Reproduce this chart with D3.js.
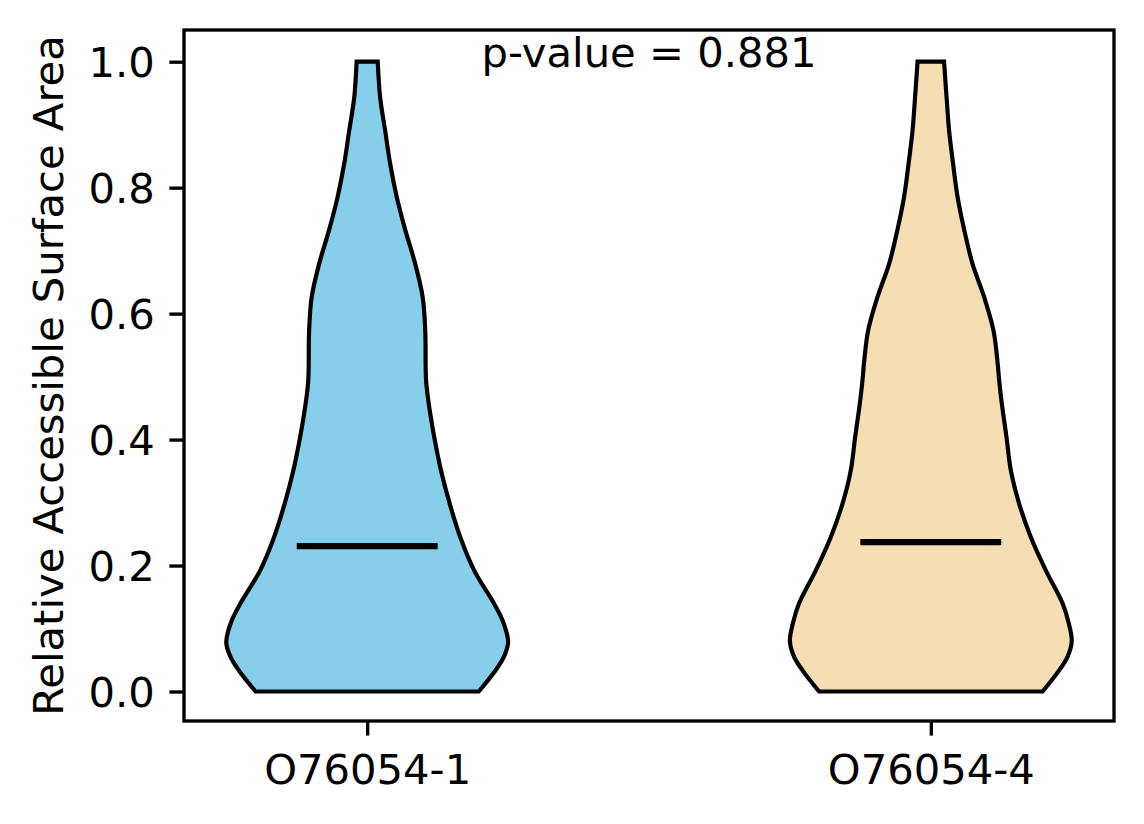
<!DOCTYPE html>
<html>
<head>
<meta charset="utf-8">
<script src="https://cdn.jsdelivr.net/npm/d3@7"></script>
<style>
  html, body { margin: 0; padding: 0; background: #fff; }
  svg { display: block; }
  text { font-family: "DejaVu Sans", sans-serif; fill: #000; }
</style>
</head>
<body>
<svg id="chart" width="1144" height="824"></svg>
<script>
// ---- data ----
const categories = ["O76054-1", "O76054-4"];
const positions = [1, 2];
const medians = [0.231, 0.237];
const colors = ["#87CEEB", "#F5DEB3"];
const pValueText = "p-value = 0.881";
const yLabel = "Relative Accessible Surface Area";
const yTicks = [0, 0.2, 0.4, 0.6, 0.8, 1.0];
const yTickLabels = ["0.0", "0.2", "0.4", "0.6", "0.8", "1.0"];

// KDE profiles: value levels and normalised density (max = 1)
const levels1 = [0.000, 0.033, 0.055, 0.078, 0.110, 0.140, 0.192, 0.245, 0.298, 0.351, 0.404, 0.457, 0.494, 0.573, 0.626, 0.679, 0.733, 0.785, 0.838, 0.890, 0.943, 1.000];
const density1 = [0.792, 0.909, 0.970, 1.000, 0.966, 0.899, 0.760, 0.661, 0.586, 0.524, 0.476, 0.437, 0.418, 0.412, 0.394, 0.341, 0.270, 0.210, 0.163, 0.128, 0.092, 0.075];
const levels2 = [0.000, 0.034, 0.055, 0.080, 0.110, 0.140, 0.192, 0.245, 0.298, 0.351, 0.404, 0.457, 0.494, 0.522, 0.573, 0.626, 0.679, 0.733, 0.785, 0.838, 0.890, 0.943, 1.000];
const density2 = [0.793, 0.912, 0.970, 1.000, 0.977, 0.935, 0.817, 0.710, 0.627, 0.568, 0.537, 0.504, 0.485, 0.474, 0.445, 0.379, 0.296, 0.237, 0.190, 0.158, 0.130, 0.112, 0.094];

const violinWidth = 0.5;

// ---- layout ----
const svg = d3.select("#chart");
const fs = 41.7;
const L = 184, R = 1114, T = 30, B = 721;
const spineW = 3.33, tickLen = 14.6, tickPad = 14.6;

const x = d3.scaleLinear().domain([0.675, 2.325]).range([L, R]);
const y = d3.scaleLinear().domain([0, 1]).range([691.5, 61.7]);

const profiles = [
  levels1.map((v, i) => ({ v, d: density1[i] })),
  levels2.map((v, i) => ({ v, d: density2[i] }))
];

// violins
profiles.forEach((prof, i) => {
  const p = positions[i];
  const area = d3.area()
    .curve(d3.curveCatmullRom.alpha(0.5))
    .y(d => y(d.v))
    .x0(d => x(p - violinWidth / 2 * d.d))
    .x1(d => x(p + violinWidth / 2 * d.d));
  svg.append("path")
    .attr("d", area(prof))
    .attr("fill", colors[i])
    .attr("stroke", "#000")
    .attr("stroke-width", 4.17)
    .attr("stroke-linejoin", "miter");
});

// medians
medians.forEach((m, i) => {
  const p = positions[i];
  svg.append("line")
    .attr("x1", x(p - violinWidth * 0.25))
    .attr("x2", x(p + violinWidth * 0.25))
    .attr("y1", y(m)).attr("y2", y(m))
    .attr("stroke", "#000")
    .attr("stroke-width", 6.25);
});

// y axis ticks
const yAxis = d3.axisLeft(y)
  .tickValues(yTicks)
  .tickFormat((d, i) => yTickLabels[i])
  .tickSize(tickLen)
  .tickPadding(tickPad);
const gy = svg.append("g").attr("transform", `translate(${L},0)`).call(yAxis);
gy.select(".domain").remove();
gy.selectAll(".tick line").attr("stroke", "#000").attr("stroke-width", spineW);
gy.selectAll(".tick text")
  .attr("font-size", fs)
  .attr("font-family", "DejaVu Sans")
  .attr("dy", null)
  .attr("dominant-baseline", "central");

// x axis ticks
const xAxis = d3.axisBottom(x)
  .tickValues(positions)
  .tickFormat((d, i) => categories[i])
  .tickSize(tickLen)
  .tickPadding(tickPad);
const gx = svg.append("g").attr("transform", `translate(0,${B})`).call(xAxis);
gx.select(".domain").remove();
gx.selectAll(".tick line").attr("stroke", "#000").attr("stroke-width", spineW);
gx.selectAll(".tick text")
  .attr("font-size", fs)
  .attr("font-family", "DejaVu Sans")
  .attr("dy", null)
  .attr("y", 784 - B)
  .attr("dominant-baseline", "alphabetic");

// spines
svg.append("rect")
  .attr("x", L).attr("y", T)
  .attr("width", R - L).attr("height", B - T)
  .attr("fill", "none")
  .attr("stroke", "#000")
  .attr("stroke-width", spineW);

// p-value annotation
svg.append("text")
  .attr("x", x(1.5))
  .attr("y", 67)
  .attr("text-anchor", "middle")
  .attr("font-size", fs)
  .text(pValueText);

// y label
svg.append("text")
  .attr("transform", `translate(63,${(T + B) / 2}) rotate(-90)`)
  .attr("text-anchor", "middle")
  .attr("font-size", fs)
  .text(yLabel);
</script>
</body>
</html>
